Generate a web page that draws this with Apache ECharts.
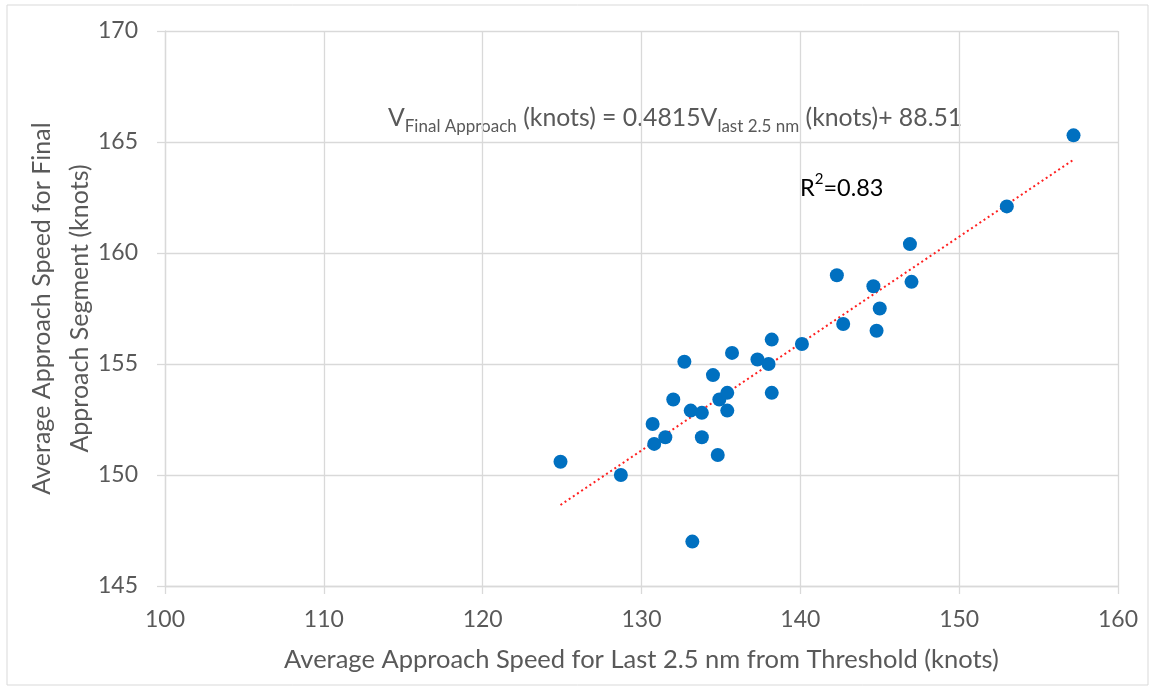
<!DOCTYPE html>
<html>
<head>
<meta charset="utf-8">
<script src="https://cdn.jsdelivr.net/npm/echarts@6/dist/echarts.min.js"></script>
<style>
  html, body { margin: 0; padding: 0; background: #fff; }
  #chart { width: 1154px; height: 691px; }
</style>
</head>
<body>
<div id="chart"></div>
<script>
// Average approach speed over the last 2.5 nm vs. speed over the final approach segment (knots)
const lastSegmentSpeed = [
  124.9, 128.7, 133.2, 130.7, 130.8, 131.5, 132.0, 132.7, 133.1, 133.8,
  133.8, 134.5, 134.8, 134.9, 135.4, 135.4, 135.7, 137.3, 138.0, 138.2,
  138.2, 140.1, 157.2, 153.0, 146.9, 142.3, 144.6, 147.0, 145.0, 142.7,
  144.8
];
const finalApproachSpeed = [
  150.6, 150.0, 147.0, 152.3, 151.4, 151.7, 153.4, 155.1, 152.9, 152.8,
  151.7, 154.5, 150.9, 153.4, 153.7, 152.9, 155.5, 155.2, 155.0, 153.7,
  156.1, 155.9, 165.3, 162.1, 160.4, 159.0, 158.5, 158.7, 157.5, 156.8,
  156.5
];

// Linear fit stated in the annotation
const fitSlope = 0.4815;
const fitIntercept = 88.51;
const rSquared = '0.83';

const xTicks = { min: 100, max: 160, interval: 10 };
const yTicks = { min: 145, max: 170, interval: 5 };

const points = lastSegmentSpeed.map((x, i) => [x, finalApproachSpeed[i]]);
const xLo = Math.min(...lastSegmentSpeed);
const xHi = Math.max(...lastSegmentSpeed);
const trend = [[xLo, fitSlope * xLo + fitIntercept], [xHi, fitSlope * xHi + fitIntercept]];

const FONT = 'Lato, "Open Sans", sans-serif';
const GREY = '#595959';

const chart = echarts.init(document.getElementById('chart'));
chart.setOption({
  backgroundColor: '#fff',
  animation: false,
  grid: { left: 165, right: 36, top: 31, bottom: 105 },
  xAxis: {
    type: 'value',
    min: xTicks.min, max: xTicks.max, interval: xTicks.interval,
    name: 'Average Approach Speed for Last 2.5 nm from Threshold (knots)',
    nameLocation: 'middle', nameGap: 61,
    nameTextStyle: { color: GREY, fontSize: 25.5, fontFamily: FONT },
    axisLine: { show: true, lineStyle: { color: '#d9d9d9', width: 1.3 } },
    axisTick: { show: true, length: 8, lineStyle: { color: '#d9d9d9', width: 1.3 } },
    axisLabel: { color: GREY, fontSize: 23, fontFamily: FONT, margin: 22 },
    splitLine: { show: true, lineStyle: { color: '#d9d9d9', width: 1.3 } }
  },
  yAxis: {
    type: 'value',
    min: yTicks.min, max: yTicks.max, interval: yTicks.interval,
    name: 'Average Approach Speed for Final\nApproach Segment (knots)',
    nameLocation: 'middle', nameGap: 66, nameRotate: 90,
    nameMoveOverlap: false,
    nameTextStyle: { color: GREY, fontSize: 25, fontFamily: FONT, lineHeight: 38 },
    axisLine: { show: true, lineStyle: { color: '#d9d9d9', width: 1.3 } },
    axisTick: { show: true, length: 8, lineStyle: { color: '#d9d9d9', width: 1.3 } },
    axisLabel: { color: GREY, fontSize: 23, fontFamily: FONT, margin: 27 },
    splitLine: { show: true, lineStyle: { color: '#d9d9d9', width: 1.3 } }
  },
  series: [
    {
      type: 'line',
      data: trend,
      symbol: 'none',
      lineStyle: { color: '#ff2020', width: 2, type: [2, 3] },
      z: 2
    },
    {
      type: 'scatter',
      data: points,
      symbolSize: 14,
      itemStyle: { color: '#0070c0', opacity: 1 },
      z: 3
    }
  ],
  graphic: [
    {
      type: 'rect',
      shape: { x: 7, y: 5, width: 1141, height: 680 },
      style: { fill: 'none', stroke: '#d9d9d9', lineWidth: 1 },
      silent: true
    },
    {
      type: 'text',
      left: 388, top: 106,
      style: {
        text: '{m|V}{s|Final Approach}{m| (knots) = ' + fitSlope + 'V}{s|last 2.5 nm}{m| (knots)+ ' + fitIntercept + '}',
        rich: {
          m: { fontSize: 24.8, fontFamily: FONT, fill: GREY, lineHeight: 34, verticalAlign: 'middle' },
          s: { fontSize: 17, fontFamily: FONT, fill: GREY, lineHeight: 17, verticalAlign: 'bottom' }
        }
      }
    },
    {
      type: 'text',
      left: 800, top: 172,
      style: {
        text: '{m|R}{p|2}{m|=' + rSquared + '}',
        rich: {
          m: { fontSize: 23.5, fontFamily: FONT, fill: '#000', lineHeight: 32, verticalAlign: 'middle' },
          p: { fontSize: 15, fontFamily: FONT, fill: '#000', lineHeight: 15, verticalAlign: 'top' }
        }
      }
    }
  ]
});
</script>
</body>
</html>
